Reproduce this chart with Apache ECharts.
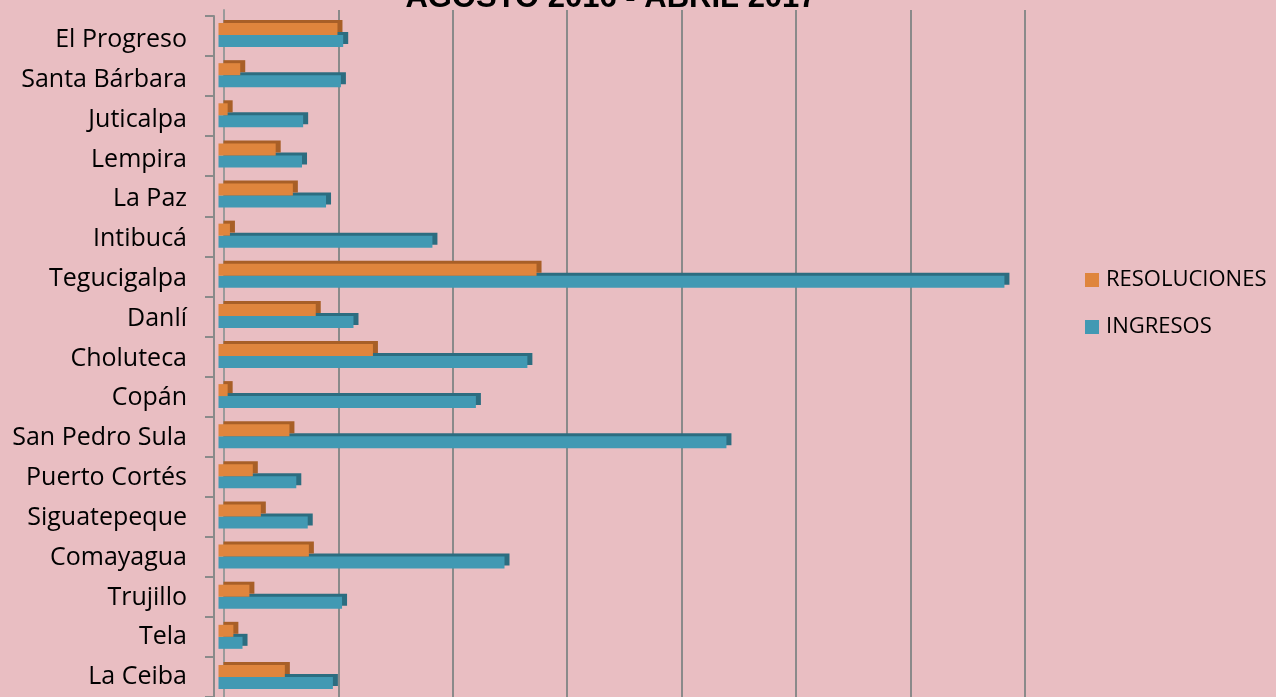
<!DOCTYPE html>
<html lang="es">
<head>
<meta charset="utf-8">
<title>AGOSTO 2016 - ABRIL 2017</title>
<script src="https://cdn.jsdelivr.net/npm/echarts@6/dist/echarts.min.js"></script>
<style>
  html, body { margin: 0; padding: 0; background: #e9bec2; }
  #main { width: 1276px; height: 697px; }
</style>
</head>
<body>
<div id="main"></div>
<script type="text/javascript">
// categorias de abajo hacia arriba
var sedes = ['La Ceiba', 'Tela', 'Trujillo', 'Comayagua', 'Siguatepeque', 'Puerto Cortés',
    'San Pedro Sula', 'Copán', 'Choluteca', 'Danlí', 'Tegucigalpa', 'Intibucá',
    'La Paz', 'Lempira', 'Juticalpa', 'Santa Bárbara', 'El Progreso'];
var resoluciones = [58, 13, 27, 79, 37, 30, 62, 8, 135, 85, 278, 10, 65, 50, 8, 19, 104];
var ingresos = [100, 21, 108, 250, 78, 68, 444, 225, 270, 118, 687, 187, 94, 73, 74, 107, 109];
var xMax = 700;
var xStep = 100;

var myChart = echarts.init(document.getElementById('main'));

var plotW = 800.8;
var plotH = 687;
var gris = '#8a8a8a';

option = {
    backgroundColor: '#e9bec2',
    title: {
        text: 'AGOSTO 2016 - ABRIL 2017',
        left: 606,
        textAlign: 'center',
        top: -22,
        textStyle: {
            fontFamily: 'Liberation Sans',
            fontSize: 31,
            fontWeight: 'bold',
            color: '#000'
        }
    },
    legend: {
        orient: 'vertical',
        left: 1085,
        top: 269,
        padding: 0,
        itemWidth: 14,
        itemHeight: 14,
        itemGap: 25,
        icon: 'rect',
        data: ['RESOLUCIONES', 'INGRESOS'],
        textStyle: { fontFamily: 'Open Sans', fontSize: 22, color: '#000', padding: [0, 0, 0, 2] }
    },
    grid: [
        // pared del fondo (lineas de division)
        { left: 224, top: 10, width: plotW, height: plotH },
        // eje del frente (linea y marcas)
        { left: 214, top: 16, width: plotW, height: plotH },
        // barras
        { left: 218.5, top: 15, width: plotW, height: plotH },
        // etiquetas de categorias
        { left: 214, top: 20, width: plotW, height: plotH }
    ],
    xAxis: [
        {
            gridIndex: 0, type: 'value', min: 0, max: xMax, interval: xStep,
            axisLine: { show: false }, axisTick: { show: false }, axisLabel: { show: false },
            splitLine: { show: true, lineStyle: { color: gris, width: 2 } }
        },
        { gridIndex: 1, type: 'value', min: 0, max: xMax, show: false },
        { gridIndex: 2, type: 'value', min: 0, max: xMax, show: false },
        { gridIndex: 3, type: 'value', min: 0, max: xMax, show: false }
    ],
    yAxis: [
        {
            gridIndex: 0, type: 'category', data: sedes,
            axisLine: { show: true, lineStyle: { color: '#9a9a9a', width: 2 } },
            axisTick: { show: false }, axisLabel: { show: false }
        },
        {
            gridIndex: 1, type: 'category', data: sedes,
            axisLine: { show: true, lineStyle: { color: gris, width: 2 } },
            axisTick: { show: true, length: 9, lineStyle: { color: gris, width: 2 } },
            axisLabel: { show: false }
        },
        {
            gridIndex: 2, type: 'category', data: sedes, show: false
        },
        {
            gridIndex: 3, type: 'category', data: sedes,
            axisLine: { show: false }, axisTick: { show: false },
            axisLabel: { margin: 27, fontFamily: 'Open Sans', fontSize: 25, color: '#000' }
        }
    ],
    series: [
        {
            name: 'RESOLUCIONES',
            type: 'bar',
            xAxisIndex: 2,
            yAxisIndex: 2,
            data: resoluciones,
            barWidth: 12,
            barGap: '0%',
            z: 3,
            itemStyle: {
                color: '#df853d',
                shadowColor: '#a85f27',
                shadowBlur: 0,
                shadowOffsetX: 5,
                shadowOffsetY: -3
            }
        },
        {
            name: 'INGRESOS',
            type: 'bar',
            xAxisIndex: 2,
            yAxisIndex: 2,
            data: ingresos,
            barWidth: 12,
            barGap: '0%',
            z: 2,
            itemStyle: {
                color: '#4199b3',
                shadowColor: '#2c6d80',
                shadowBlur: 0,
                shadowOffsetX: 5,
                shadowOffsetY: -3
            }
        }
    ]
};

myChart.setOption(option);
</script>
</body>
</html>
